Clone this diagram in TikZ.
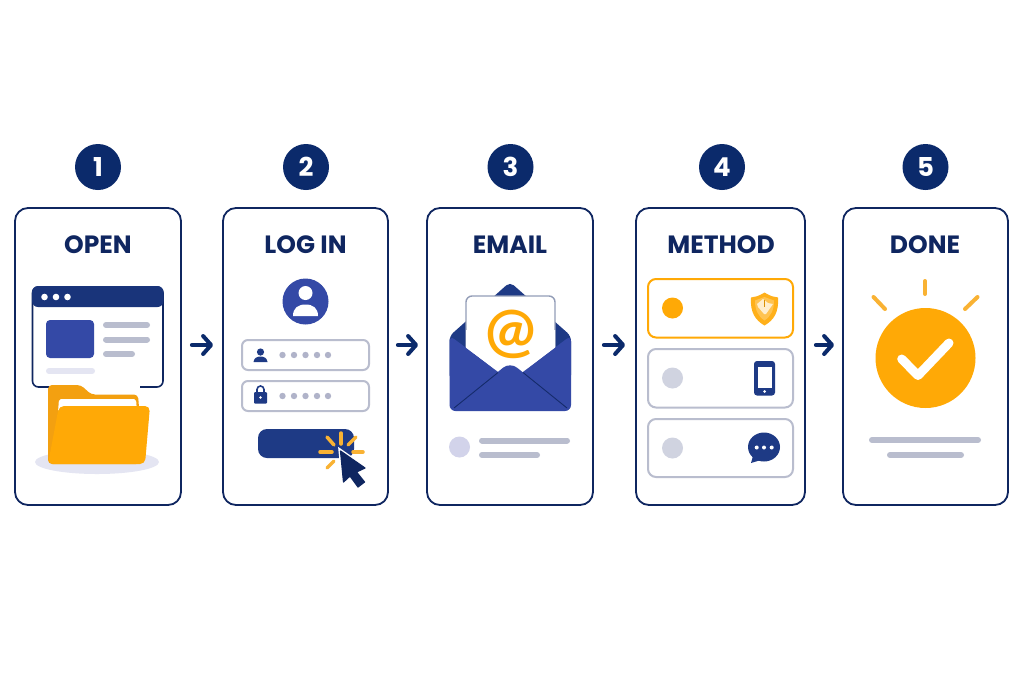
\documentclass[tikz,border=0pt]{standalone}
\usepackage{fontspec}
\setmainfont{Poppins}
\newfontfamily\atfont{Lato}
\usetikzlibrary{arrows.meta,calc}
\definecolor{navy}{HTML}{0F2660}
\definecolor{badgeblue}{HTML}{0B2A6B}
\definecolor{royal}{HTML}{3449A6}
\definecolor{deep}{HTML}{1E3A85}
\definecolor{amber}{HTML}{FFA906}
\definecolor{amberd}{HTML}{F3A010}
\definecolor{rayc}{HTML}{F9B233}
\definecolor{greyl}{HTML}{B9BDCE}
\definecolor{dotg}{HTML}{B0B3C9}
\definecolor{pale}{HTML}{E4E5F2}
\definecolor{lilac}{HTML}{D2D3EA}
\definecolor{radiog}{HTML}{D0D3E0}
\tikzset{
  card/.style={draw=navy,line width=1.8pt,fill=white,rounded corners=13pt,minimum width=#1,minimum height=297pt,inner sep=0pt},
  badge/.style={circle,fill=badgeblue,text=white,minimum size=46pt,inner sep=0pt,font=\fontsize{26}{26}\selectfont\bfseries},
  ttl/.style={text=navy,inner sep=0pt,font=\fontsize{25}{25}\selectfont\bfseries},
  flow/.style={draw=badgeblue,line width=4pt,line cap=round,line join=round,-{Straight Barb[length=8pt,width=18pt,line width=4pt,round]}},
  bar/.style={draw=greyl,line width=6pt,line cap=round},
  field/.style={draw=greyl,line width=2pt,fill=white,rounded corners=6pt},
  ray/.style={draw=rayc,line width=#1,line cap=round},
  ray/.default=3.5pt,
  pw/.style={fill=dotg,circle,inner sep=0pt,minimum size=6.4pt},
}
\begin{document}
\begin{tikzpicture}[x=1pt,y=-1pt]
\useasboundingbox (0,0) rectangle (1024,683);
\fill[white] (0,0) rectangle (1024,683);
% cards
\node[card=166pt] (c1) at (98,356.5) {};
\node[card=165pt] (c2) at (305.5,356.5) {};
\node[card=166pt] (c3) at (510,356.5) {};
\node[card=169pt] (c4) at (720.5,356.5) {};
\node[card=165pt] (c5) at (925.5,356.5) {};
% badges
\node[badge] (b1) at (98,167) {1};
\node[badge] (b2) at (306,167) {2};
\node[badge] (b3) at (510.5,167) {3};
\node[badge] (b4) at (722,167) {4};
\node[badge] (b5) at (925.5,167) {5};
% titles
\node[ttl] (t1) at (98,245) {OPEN};
\node[ttl] (t2) at (305.5,245) {LOG IN};
\node[ttl] (t3) at (510,245) {EMAIL};
\node[ttl] (t4) at (721,245) {METHOD};
\node[ttl] (t5) at (925,245) {DONE};
% arrows
\coordinate (lvl) at (0,345);
\draw[flow,shorten <=10pt,shorten >=9pt] (c1.east |- lvl) -- (c2.west |- lvl);
\draw[flow,shorten <=9pt,shorten >=8pt] (c2.east |- lvl) -- (c3.west |- lvl);
\draw[flow,shorten <=10pt,shorten >=10pt] (c3.east |- lvl) -- (c4.west |- lvl);
\draw[flow,shorten <=10pt,shorten >=8pt] (c4.east |- lvl) -- (c5.west |- lvl);
% --- OPEN: browser
\draw[navy,line width=1.6pt,fill=white,rounded corners=6pt] (32.5,287) rectangle (163,387);
\fill[deep!70!navy,rounded corners=6pt] (32,286) -- (163.5,286) -- (163.5,307) -- (32,307) -- cycle;
\foreach \x in {44.5,56,67.5} \fill[white] (\x,297) circle (3.3);
\fill[royal,rounded corners=4pt] (46,320) rectangle (94,358);
\draw[bar] (106,325) -- (147,325);
\draw[bar] (106,339.5) -- (147,339.5);
\draw[bar] (106,354) -- (132,354);
\draw[pale,line width=6pt,line cap=round] (49,371) -- (92,371);
\fill[white] (50,383) rectangle (140,392);
% folder
\fill[pale] (97,462) ellipse (62 and 12);
\fill[amberd,rounded corners=4pt] (48,464) -- (48,385) -- (81,385) -- (91,394.5) -- (138,394.5) -- (140,420) -- (140,464) -- cycle;
\fill[white,rounded corners=2pt] (58,412) -- (59,399) -- (136,399) -- (137,412) -- cycle;
\fill[amber,rounded corners=5pt] (48,464) -- (59,406) -- (150,406) -- (145,464) -- cycle;
% --- LOG IN
\fill[royal] (305.5,301.5) circle (23);
\fill[white] (305.5,293) circle (7);
\fill[white] (293,316) .. controls (293,308) and (298,304.5) .. (305.5,304.5) .. controls (313,304.5) and (318,308) .. (318,316) -- cycle;
\draw[field] (242,340) rectangle (369,370);
\draw[field] (242,381) rectangle (369,411);
\fill[deep] (260.5,352) circle (3.6);
\fill[deep] (253.5,362) .. controls (254,358) and (257,356.5) .. (260.5,356.5) .. controls (264,356.5) and (267,358) .. (267.5,362) -- cycle;
\fill[deep,rounded corners=1pt] (254,392) rectangle (267,403.5);
\draw[deep,line width=1.6pt] (257,392.5) -- (257,389.5) arc (180:360:3.5) -- (264,392.5);
\fill[white] (260.5,397.5) circle (1.3);
\foreach \y [count=\r] in {355,396} \foreach \x [count=\k] in {282.5,294,305.5,317,328}
  \node[pw] (pw\r\k) at (\x,\y) {};
\fill[deep,rounded corners=9pt] (258,429) rectangle (354,458);
\draw[ray] (341,433) -- (341,444);
\draw[ray] (327,437) -- (334,445);
\draw[ray] (356,437) -- (348,445);
\draw[ray] (320,452) -- (332,452);
\draw[ray] (353,452) -- (363,452);
\draw[ray] (327,468) -- (334,461);
\draw[navy,fill=navy,line width=1.2pt,line join=round,preaction={draw=white,line width=4pt}]
  (340.5,451) -- (365,468) -- (356.5,472) -- (364.5,482) -- (358,487) -- (350,476) -- (343.5,482) -- cycle;
% --- EMAIL
\fill[deep,rounded corners=5pt] (449.5,336) -- (510,282) -- (571,336) -- (571,380) -- (449.5,380) -- cycle;
\draw[draw=navy!45!white,fill=white,line width=1.4pt,rounded corners=6pt] (466,360) -- (466,296) -- (555,296) -- (555,360);
\fill[white] (466,340) rectangle (555,385);
\fill[royal,rounded corners=6pt] (449.5,335.5) -- (498,371.5) -- (523,371.5) -- (571,335.5) -- (571,411) -- (449.5,411) -- cycle;
\fill[white] (466,347.5) -- (498,371.8) -- (523,371.8) -- (555,347.5) -- (555,330) -- (466,330) -- cycle;
\fill[royal,rounded corners=9pt] (454,408) -- (510,362) -- (567,408) -- cycle;
\draw[navy!85!royal,line width=.9pt] (454,408) -- (498,372.5);
\draw[navy!85!royal,line width=.9pt] (523,372.5) -- (567,408);
\node[text=amber,inner sep=0pt,font=\atfont\bfseries\fontsize{60}{60}\selectfont] (at) at (510.5,334) {@};
\fill[lilac] (459.5,447) circle (10.5);
\draw[bar] (482,440.5) -- (567,440.5);
\draw[bar] (482,455) -- (537,455);
% --- METHOD
\draw[draw=amber,line width=2pt,fill=white,rounded corners=8pt] (648,279) rectangle (793,337.5);
\draw[field,rounded corners=8pt] (648,349) rectangle (793,407.5);
\draw[field,rounded corners=8pt] (648,419) rectangle (793,477);
\fill[amber] (672.5,308) circle (10.5);
\fill[radiog] (672.5,378) circle (10.5);
\fill[radiog] (672.5,448) circle (10.5);
% shield
\fill[amber!92!white] (764.5,292.5) .. controls (758,296.5) and (755,297) .. (751,297.5) .. controls (750,312) and (755,320) .. (764.5,325.5) .. controls (774,320) and (779,312) .. (778,297.5) .. controls (774,297) and (771,296.5) .. (764.5,292.5) -- cycle;
\fill[amber!70!white] (764.5,297) -- (755,300.5) .. controls (755,310) and (758,316) .. (764.5,320.5) .. controls (771,316) and (774,310) .. (774,300.5) -- cycle;
\fill[white!80!amber] (763,299) -- (757,304) -- (758,307) -- (764,314) -- (766,314) -- (773,304) -- (768,303) -- cycle;
\draw[amber!85!black,line width=.8pt] (764.5,300) -- (764.5,307);
% phone
\fill[deep,rounded corners=3pt] (754,361) rectangle (775,395.5);
\fill[white] (757.5,366.5) rectangle (771.5,388);
\fill[white] (764.5,391.5) circle (1.5);
% chat
\fill[deep] (764,447) ellipse (16 and 14.5);
\fill[deep] (753,456) -- (751,463) -- (761,460) -- cycle;
\foreach \x in {756.7,764,771.7} \fill[white] (\x,447.5) circle (2);
% --- DONE
\fill[amber] (925.5,358) circle (50);
\draw[white,line width=9pt,line cap=round,line join=round] (901.7,359) -- (918,375.5) -- (949,343);
\draw[ray=4pt] (925,281) -- (925,294);
\draw[ray=4pt] (873.5,297) -- (885,309);
\draw[ray=4pt] (977.5,297) -- (965,309);
\draw[bar] (872,440) -- (978,440);
\draw[bar] (890,455) -- (961,455);
\end{tikzpicture}
\end{document}
